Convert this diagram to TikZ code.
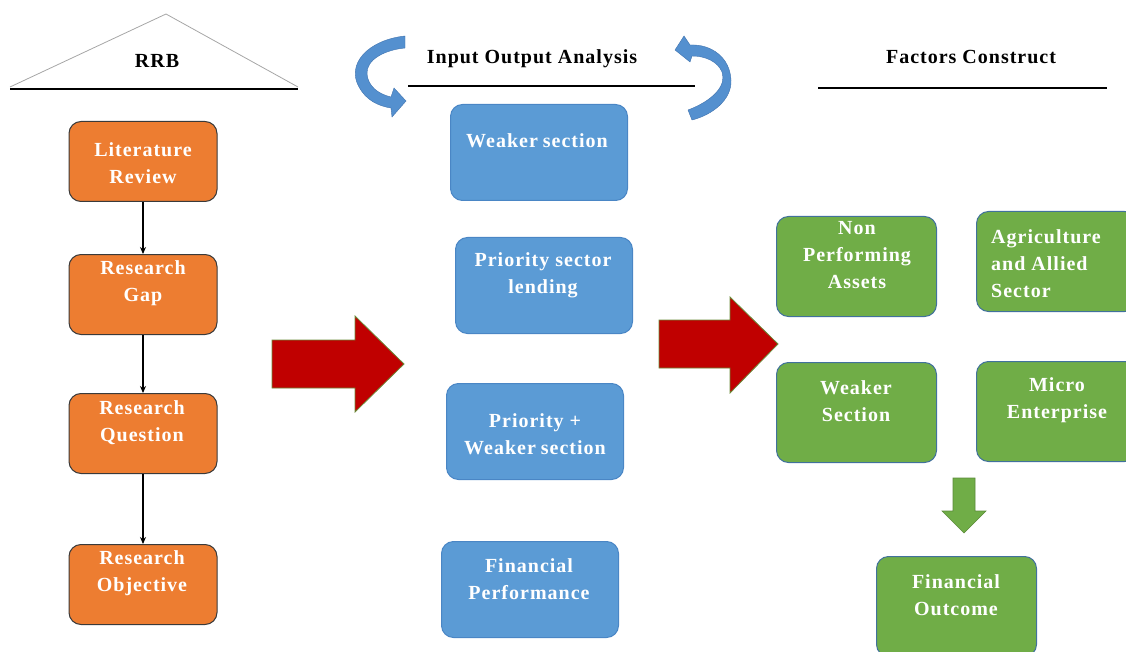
\documentclass[tikz,border=0pt]{standalone}
\usepackage{fontspec}
\setmainfont{Liberation Serif}[LetterSpace=5]
\usetikzlibrary{arrows.meta}
\definecolor{orfill}{HTML}{ED7D31}
\definecolor{ordraw}{HTML}{3A3A3A}
\definecolor{blfill}{HTML}{5B9BD5}
\definecolor{bldraw}{HTML}{4A86C5}
\definecolor{grfill}{HTML}{70AD47}
\definecolor{grdraw}{HTML}{41719C}
\definecolor{redfill}{HTML}{C00000}
\definecolor{reddraw}{HTML}{6A8B3A}
\definecolor{curvfill}{HTML}{5490CF}
\definecolor{curvdraw}{HTML}{3F72AE}
\begin{document}
\begin{tikzpicture}[x=1pt,y=-1pt,
  box/.style={draw, rounded corners=12pt, line width=1pt, anchor=north west, inner sep=0pt},
  orbox/.style={box, fill=orfill, draw=ordraw, minimum width=148pt, minimum height=80pt},
  blbox/.style={box, fill=blfill, draw=bldraw, minimum width=177pt, minimum height=96pt},
  grbox/.style={box, fill=grfill, draw=grdraw, minimum width=160pt, minimum height=100pt},
  lbl/.style={text=white, font=\bfseries\fontsize{20}{27}\selectfont, align=center, inner sep=0pt},
  head/.style={text=black, font=\bfseries\fontsize{20}{24}\selectfont, inner sep=0pt},
  flow/.style={-{Stealth[length=7pt,width=6pt]}, line width=1.2pt, draw=black},
  bigarrow/.style={fill=redfill, draw=reddraw, line width=0.8pt, line join=miter},
  curv/.style={fill=curvfill, draw=curvdraw, line width=0.4pt}
]
\useasboundingbox (0,0) rectangle (1126,652);

% ---- RRB triangle ----
\draw[gray!70, line width=0.8pt] (10,87) -- (166,14) -- (298,87);
\draw[black, line width=2.5pt] (10,89) -- (298,89);
\node[head] (rrb) at (157,61) {RRB};

% ---- headers ----
\node[head] (ioa) at (532,59) {Input Output Analysis};
\draw[black, line width=2pt] (408,86) -- (695,86);
\node[head] (fc) at (971,57) {Factors Construct};
\draw[black, line width=2pt] (818,88) -- (1107,88);

% ---- curved arrows ----
\draw[curv] (405,36) .. controls (368,40) and (346,64) .. (359,87)
  .. controls (366,100) and (378,106) .. (391,108)
  -- (392,117) -- (406,101) -- (394,88) -- (391,97)
  .. controls (378,94) and (368,86) .. (367,74)
  .. controls (366,60) and (384,50) .. (405,48) -- cycle;
\draw[curv] (688,110) .. controls (712,101) and (727,86) .. (722,72)
  .. controls (718,62) and (706,56) .. (692,56)
  -- (690,62) -- (675,50) -- (684,36) -- (690,45)
  .. controls (712,44) and (730,58) .. (731,80)
  .. controls (732,100) and (712,115) .. (692,120) -- cycle;

% ---- orange column ----
\node[orbox] (lr) at (68.5,121) {};
\node[orbox] (rg) at (68.5,254) {};
\node[orbox] (rq) at (68.5,393) {};
\node[orbox] (ro) at (68.5,544) {};
\node[lbl] (lrt) at (143,163) {Literature\\Review};
\node[lbl] (rgt) at (143,283) {Research\\Gap};
\node[lbl] (rqt) at (142,423) {Research\\Question};
\node[lbl] (rot) at (142,573) {Research\\Objective};
\draw[flow] (lr.south) -- (rg.north);
\draw[flow] (rg.south) -- (rq.north);
\draw[flow] (rq.south) -- (ro.north);

% ---- blue column ----
\node[blbox] (ws) at (450,104) {};
\node[blbox] (psl) at (455,237) {};
\node[blbox] (pw) at (446,383) {};
\node[blbox] (fp) at (441,541) {};
\node[lbl] (wst) at (537,141) {Weaker\hspace{5pt}section};
\node[lbl] (pslt) at (543,275) {Priority sector\\lending};
\node[lbl] (pwt) at (535,434) {Priority +\\Weaker\hspace{5pt}section};
\node[lbl] (fpt) at (529,579) {Financial\\Performance};

% ---- red arrows ----
\draw[bigarrow] (272,340) -- (355,340) -- (355,316) -- (404,364) -- (355,412) -- (355,388) -- (272,388) -- cycle;
\draw[bigarrow] (659,320) -- (730,320) -- (730,297) -- (778,344) -- (730,393) -- (730,368) -- (659,368) -- cycle;

% ---- green column ----
\node[grbox] (npa) at (776,216) {};
\node[grbox] (agr) at (976,211) {};
\node[grbox] (wsec) at (776,362) {};
\node[grbox] (me) at (976,361) {};
\node[grbox] (fo) at (876,556) {};
\node[lbl] (npat) at (857,255.5) {Non\\Performing\\Assets};
\node[lbl, align=left, anchor=west] (agrt) at (991,263.5) {Agriculture\\and Allied\\Sector};
\node[lbl] (wsect) at (856,401) {Weaker\\Section};
\node[lbl] (met) at (1057,400) {Micro\\Enterprise};
\node[lbl] (fot) at (956,595) {Financial\\Outcome};

% ---- green down arrow ----
\draw[fill=grfill, draw=grfill!80!black, line width=0.6pt] (953,478) -- (975,478) -- (975,511) -- (986,511) -- (964,533) -- (942,511) -- (953,511) -- cycle;
\end{tikzpicture}
\end{document}
